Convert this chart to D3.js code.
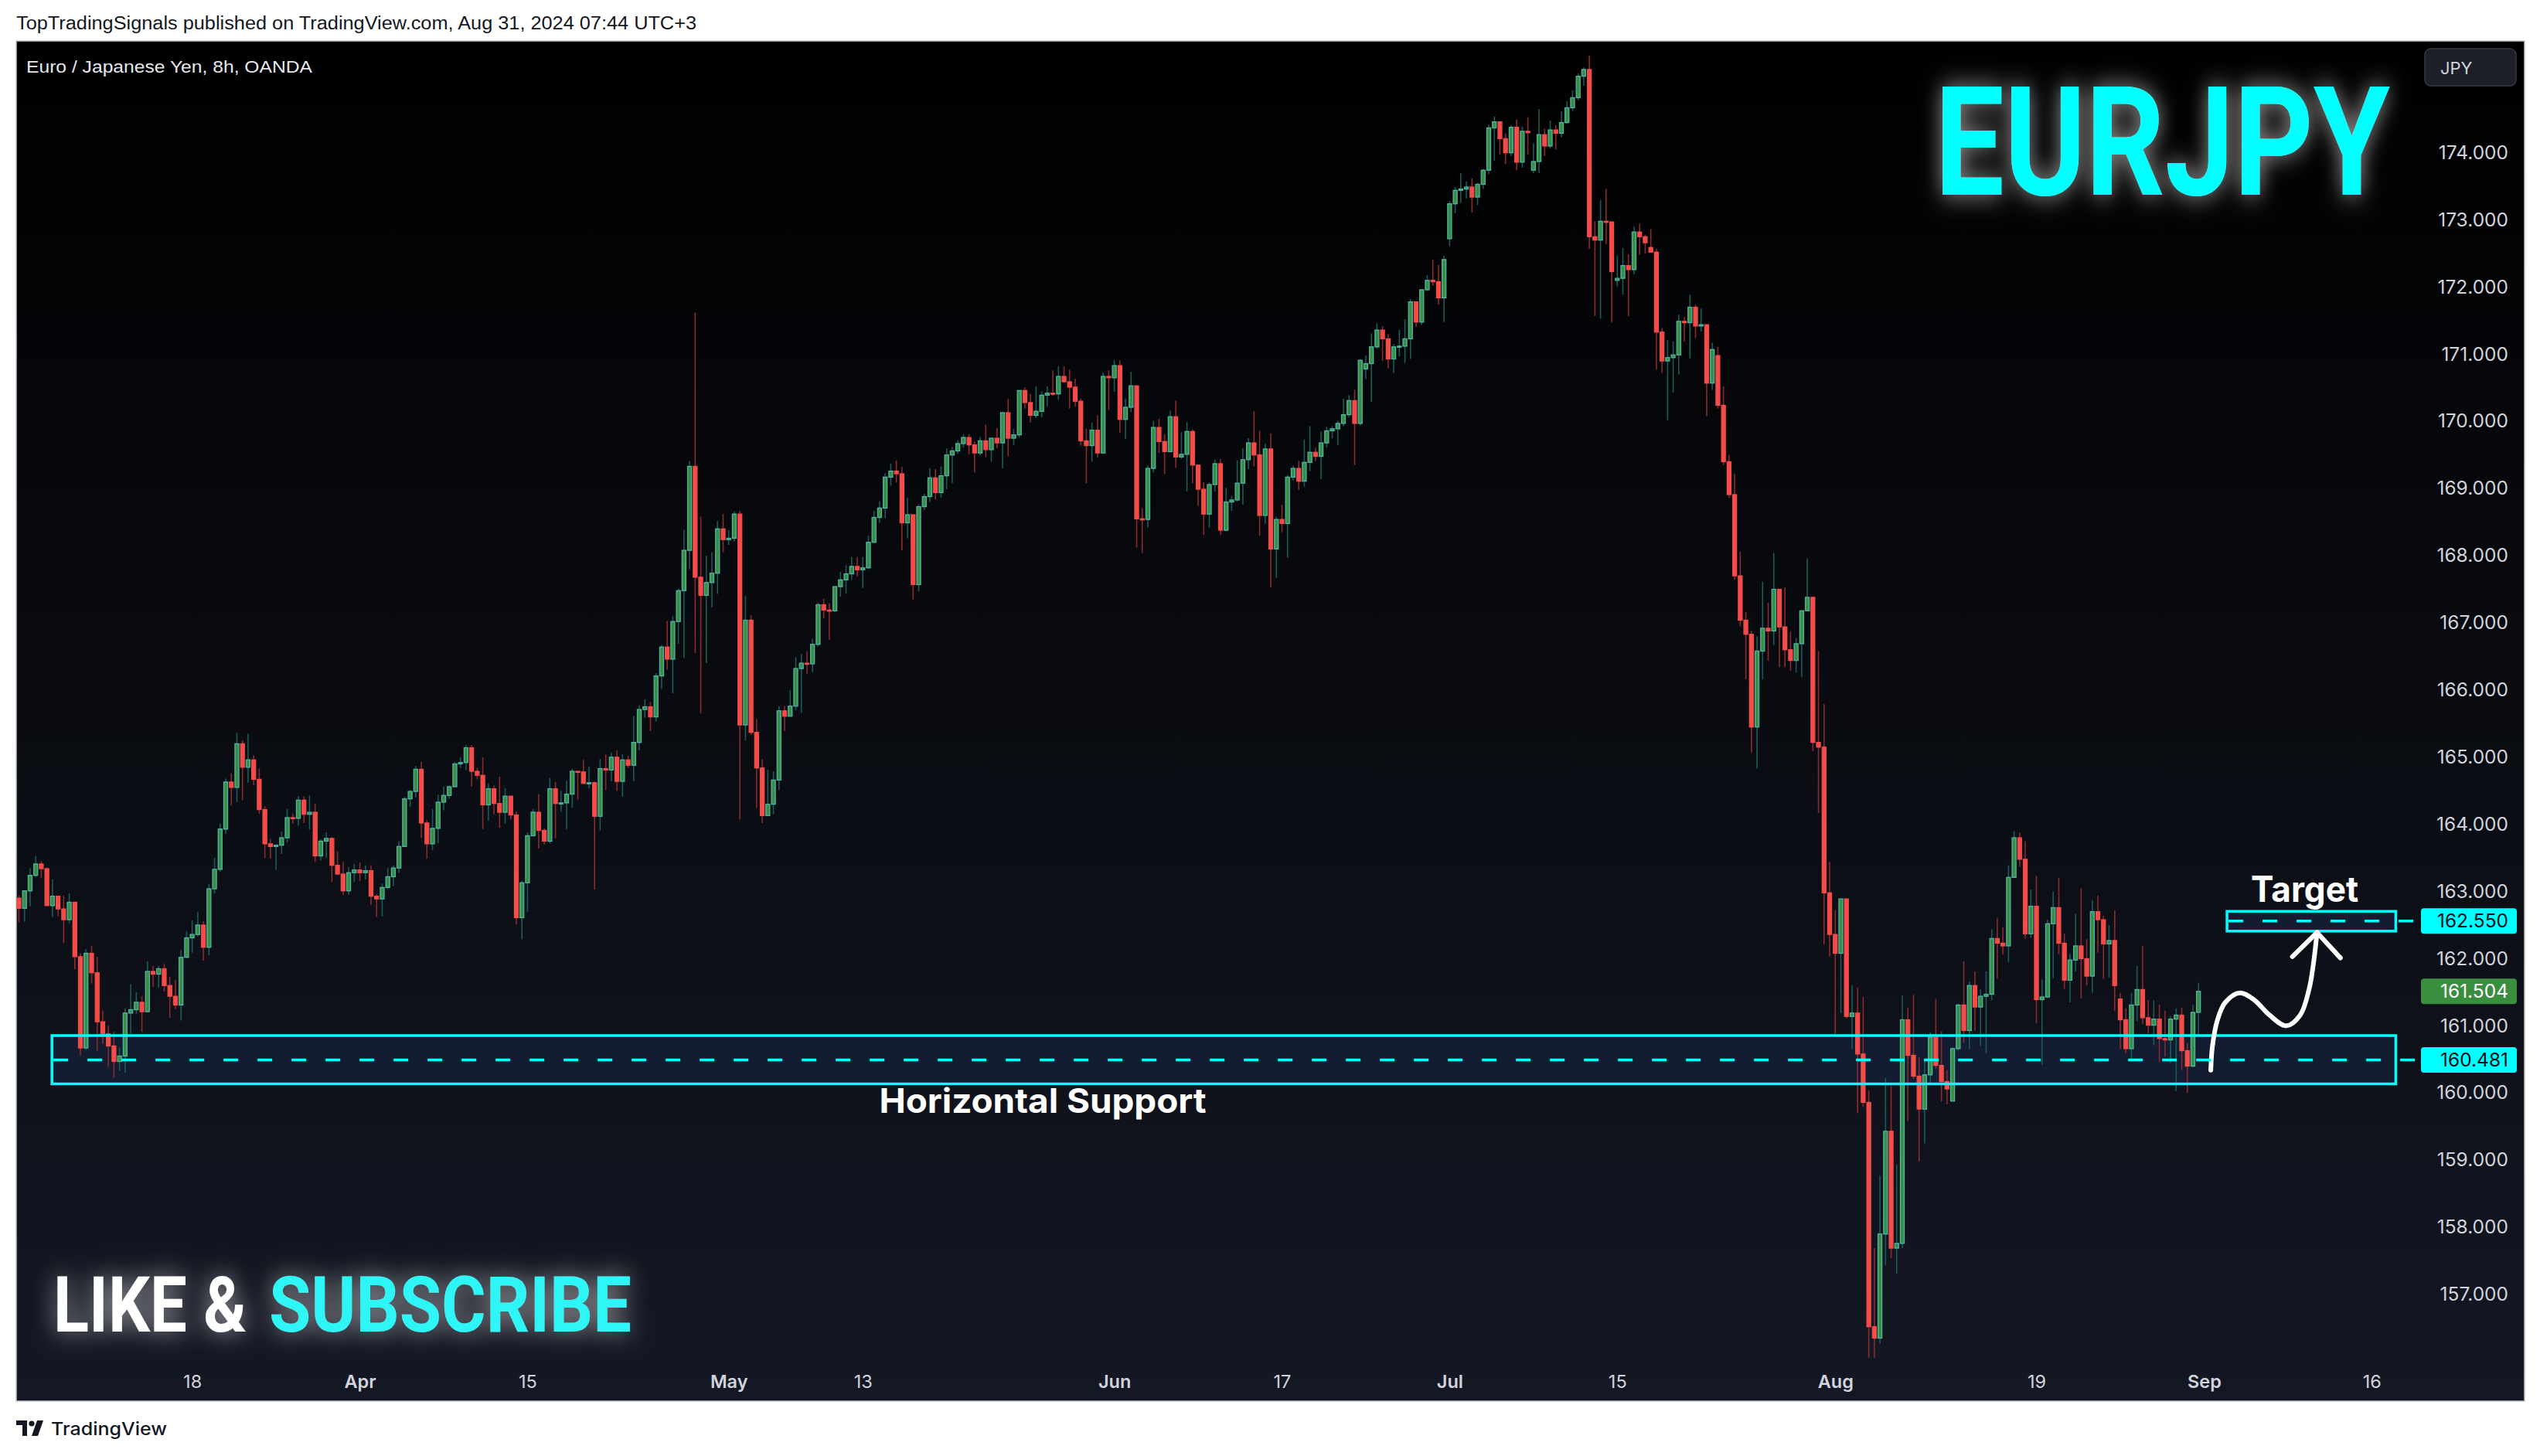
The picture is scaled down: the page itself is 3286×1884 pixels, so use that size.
<!DOCTYPE html>
<html><head><meta charset="utf-8">
<script src="https://cdn.jsdelivr.net/npm/d3@7"></script>
<style>
html,body{margin:0;padding:0;background:#fff;}
svg{display:block;}
</style></head><body>
<svg id="c" width="3286" height="1884"></svg>
<script>
// ---------------- DATA (EURJPY, 8h, OANDA) ----------------
const firstOpen = 162.89;
const closes = [
162.74,163.00,163.23,163.40,163.33,162.78,162.92,162.73,162.57,162.83,
162.02,160.66,162.07,161.78,161.05,160.87,160.69,160.46,160.54,161.18,
161.23,161.34,161.20,161.80,161.76,161.84,161.59,161.43,161.30,162.01,
162.30,162.35,162.49,162.16,163.03,163.32,163.92,164.62,164.54,165.19,
164.84,164.95,164.66,164.21,163.70,163.66,163.68,163.79,164.09,164.08,
164.35,164.14,164.17,163.52,163.74,163.78,163.38,163.25,163.00,163.27,
163.31,163.27,163.30,162.92,162.88,163.05,163.21,163.34,163.66,164.37,
164.48,164.81,164.01,163.70,163.93,164.32,164.42,164.55,164.89,164.91,
165.13,164.78,164.72,164.28,164.52,164.30,164.17,164.41,164.13,162.60,
163.12,163.82,164.17,163.90,163.74,164.52,164.30,164.31,164.44,164.78,
164.77,164.60,164.61,164.11,164.82,164.80,164.99,164.63,164.95,164.87,
165.21,165.70,165.74,165.59,166.20,166.63,166.45,167.01,167.47,168.07,
169.32,167.67,167.40,167.59,167.73,168.39,168.23,168.25,168.61,165.47,
167.03,165.36,164.83,164.12,164.29,164.65,165.68,165.60,165.75,166.31,
166.39,166.38,166.67,167.26,167.18,167.17,167.53,167.63,167.72,167.83,
167.78,167.81,168.19,168.56,168.70,169.16,169.25,169.21,168.48,168.60,
167.56,168.72,168.87,169.15,168.93,169.18,169.49,169.55,169.66,169.75,
169.64,169.52,169.70,169.57,169.74,169.67,170.12,169.74,169.79,170.45,
170.27,170.08,170.14,170.38,170.41,170.40,170.66,170.58,170.50,170.29,
169.70,169.63,169.86,169.52,170.66,170.64,170.82,170.02,170.20,170.52,
168.54,168.53,169.29,169.90,169.69,169.54,170.06,169.46,169.50,169.84,
169.34,168.98,168.61,169.05,169.36,168.37,168.79,168.82,169.07,169.42,
169.67,169.49,168.59,169.58,168.09,168.53,168.47,169.16,169.29,169.10,
169.38,169.53,169.47,169.67,169.85,169.88,169.96,170.09,170.30,169.96,
170.90,170.85,171.10,171.35,171.22,170.92,171.10,171.11,171.22,171.77,
171.47,171.95,172.09,172.07,171.83,172.40,173.23,173.43,173.45,173.48,
173.33,173.52,173.73,174.36,174.45,174.20,173.99,174.37,173.85,174.31,
174.29,173.86,174.26,174.09,174.33,174.28,174.44,174.66,174.81,175.13,
175.23,172.74,172.69,172.97,172.96,172.22,172.12,172.31,172.25,172.81,
172.74,172.65,172.51,171.32,170.89,170.94,170.98,171.48,171.46,171.69,
171.41,171.43,170.56,171.06,170.23,169.39,168.90,167.69,167.03,166.82,
165.44,166.57,166.91,166.87,167.49,166.93,166.59,166.43,166.68,167.17,
167.37,165.21,165.14,162.97,162.35,162.07,162.88,161.13,161.18,160.57,
159.85,156.51,156.34,157.89,159.42,157.68,157.75,161.08,160.55,160.24,
159.75,160.26,160.82,160.40,160.16,160.05,160.65,161.30,160.92,161.59,
161.27,161.43,161.46,162.29,162.22,162.18,163.20,163.79,163.47,162.36,
162.77,161.38,161.42,162.51,162.75,162.22,161.67,161.97,162.18,161.99,
161.73,162.69,162.57,162.21,162.26,161.59,161.08,160.65,161.30,161.53,
161.11,161.00,161.09,160.80,160.78,161.09,161.15,160.62,160.39,161.19,
161.504];
const highs = [
162.93,163.01,163.34,163.52,163.44,163.35,163.17,162.93,162.93,162.96,
162.83,162.07,162.13,162.18,162.02,161.22,160.99,160.90,160.67,161.25,
161.61,161.49,161.43,161.95,161.88,161.88,161.91,161.72,161.67,162.12,
162.40,162.56,162.69,162.55,163.10,163.49,164.00,164.67,164.75,165.35,
165.24,165.34,165.02,164.82,164.26,163.77,163.69,163.88,164.22,164.15,
164.41,164.41,164.42,164.30,163.77,163.87,163.80,163.59,163.43,163.35,
163.40,163.42,163.38,163.38,162.95,163.11,163.34,163.38,163.74,164.40,
164.50,164.86,164.92,164.05,164.22,164.43,164.55,164.57,164.92,164.99,
165.17,165.17,164.83,164.99,164.60,164.57,164.70,164.53,164.41,164.18,
163.15,163.87,164.22,164.44,163.93,164.68,164.62,164.49,164.64,164.82,
164.78,164.95,164.85,164.63,164.96,165.03,165.06,165.09,165.03,165.01,
165.61,165.76,165.85,165.81,166.24,166.66,167.02,167.09,167.50,168.38,
169.40,171.61,168.57,167.99,168.04,168.51,168.61,168.37,168.65,168.66,
167.39,167.10,165.56,164.96,164.80,164.78,165.75,165.75,165.99,166.48,
166.53,166.57,166.75,167.29,167.35,167.28,167.54,167.75,167.85,167.97,
167.97,167.97,168.29,168.66,168.80,169.22,169.36,169.41,169.31,168.85,
168.60,168.75,168.91,169.29,169.28,169.32,169.59,169.61,169.71,169.80,
169.80,169.69,169.76,169.94,169.74,169.89,170.13,170.33,169.88,170.45,
170.50,170.40,170.51,170.44,170.51,170.75,170.81,170.81,170.76,170.63,
170.33,169.88,169.97,170.08,170.72,170.75,170.90,170.90,170.33,170.73,
170.52,168.70,169.33,170.00,170.03,169.80,170.15,170.30,169.83,169.98,
169.87,169.34,169.08,169.08,169.42,169.43,169.00,168.88,169.41,169.59,
169.74,170.14,169.85,169.66,169.81,168.57,168.75,169.19,169.33,169.40,
169.72,169.92,169.60,169.84,169.91,169.92,170.00,170.33,170.38,170.46,
170.92,170.97,171.30,171.45,171.41,171.29,171.14,171.35,171.51,171.81,
171.72,171.96,172.17,172.40,172.32,172.46,173.27,173.48,173.69,173.56,
173.61,173.54,173.75,174.41,174.53,174.44,174.28,174.40,174.48,174.38,
174.52,174.13,174.64,174.35,174.47,174.40,174.61,174.76,174.92,175.17,
175.26,175.44,172.97,173.29,173.45,172.97,172.46,172.57,172.48,172.89,
172.93,172.77,172.85,172.56,171.38,171.20,171.18,171.58,171.54,171.88,
171.73,171.67,171.43,171.16,171.10,170.51,169.49,169.21,168.05,167.15,
166.87,166.79,167.60,167.29,168.03,167.49,167.52,166.86,166.76,167.17,
167.95,167.37,166.57,165.78,163.43,162.71,162.88,162.88,161.59,161.56,
161.42,160.03,157.68,158.76,160.21,160.10,158.92,161.44,161.26,161.45,
160.52,160.47,160.89,161.39,160.91,160.33,160.67,161.32,161.95,161.65,
161.80,161.53,161.80,162.43,162.60,162.46,163.38,163.89,163.87,163.74,
163.02,163.22,161.68,162.57,162.99,163.19,162.36,162.06,162.66,163.04,
162.28,162.86,162.93,162.63,162.49,162.71,161.48,161.25,161.48,161.88,
162.18,161.37,161.37,161.31,161.22,161.13,161.25,161.26,160.73,161.30,
161.63];
const lows = [
162.53,162.54,162.77,163.20,163.19,162.78,162.61,162.62,162.22,162.52,
161.83,160.55,160.63,161.62,160.62,160.72,160.38,160.22,160.32,160.29,
160.87,161.17,160.90,161.20,161.57,161.56,161.50,161.11,161.24,161.07,
162.00,162.08,162.32,161.96,162.04,162.96,163.28,163.85,164.27,164.32,
164.35,164.61,164.57,164.15,163.49,163.48,163.31,163.55,163.72,164.00,
163.97,164.01,163.91,163.43,163.45,163.49,163.13,163.23,162.94,162.94,
163.13,163.15,163.17,162.79,162.61,162.62,163.02,163.07,163.27,163.65,
164.25,164.39,163.79,163.48,163.61,163.71,164.20,164.37,164.55,164.83,
164.80,164.55,164.66,163.92,164.04,164.14,163.94,164.00,164.06,162.50,
162.28,162.69,163.81,163.63,163.69,163.71,163.78,164.18,163.92,164.24,
164.36,164.59,164.53,163.02,163.90,164.50,164.63,164.49,164.40,164.83,
164.63,165.09,165.58,165.38,165.52,166.01,166.29,165.94,166.68,166.47,
167.79,166.54,165.64,166.39,167.22,167.42,168.04,168.15,168.20,164.06,
165.24,165.32,164.23,164.01,164.11,164.14,164.50,165.38,165.60,165.69,
165.65,166.23,166.26,166.64,167.06,166.74,167.15,167.38,167.43,167.63,
167.68,167.51,167.79,168.18,168.48,168.55,169.03,169.08,168.07,168.25,
167.34,167.46,168.67,168.79,168.83,168.85,168.98,169.07,169.51,169.60,
169.50,169.23,169.48,169.46,169.39,169.59,169.29,169.47,169.64,169.75,
170.18,169.97,170.04,170.05,170.21,170.37,170.31,170.57,170.18,170.21,
169.63,169.07,169.39,169.45,169.52,170.16,170.43,169.82,169.73,170.13,
168.11,168.03,168.41,169.23,169.52,169.21,169.53,169.30,169.43,168.95,
169.07,168.73,168.30,168.41,168.95,168.30,168.35,168.66,168.80,168.75,
169.28,169.32,168.29,168.47,167.52,167.66,168.34,167.96,169.11,168.97,
169.02,169.25,169.40,169.13,169.60,169.74,169.64,169.92,170.05,169.34,
169.93,170.62,170.28,171.07,170.89,170.78,170.71,170.96,170.86,170.92,
171.40,171.43,171.93,172.01,171.73,171.47,172.60,173.09,173.24,173.31,
173.10,173.21,173.45,173.67,173.87,173.96,173.82,173.94,173.73,173.77,
173.96,173.69,173.69,173.94,174.05,174.04,174.22,174.42,174.61,174.77,
174.99,172.56,171.56,171.52,172.63,171.47,172.00,171.88,171.56,172.18,
172.47,172.49,172.51,170.76,170.71,170.01,170.42,170.69,171.18,170.93,
171.23,171.33,170.07,170.46,170.18,169.34,168.85,167.63,166.94,166.15,
165.06,164.82,166.15,166.43,166.66,166.33,166.33,166.28,166.25,166.18,
167.17,165.08,164.16,162.20,162.02,160.87,161.18,161.10,160.65,159.69,
159.78,156.05,156.05,156.26,157.43,157.53,157.30,157.68,159.57,160.20,
158.97,159.24,160.11,160.35,159.86,159.82,159.87,160.62,160.74,160.65,
160.92,160.69,160.58,161.37,161.69,162.05,161.94,163.20,163.36,162.29,
162.30,161.03,160.41,161.40,161.70,162.06,161.54,161.34,161.80,161.40,
161.59,161.48,162.08,161.69,161.71,161.21,160.65,160.58,160.50,161.06,
161.02,160.88,160.70,160.45,160.53,160.44,160.02,160.33,159.99,160.37,
160.85];
// bars whose open differs from the previous close (session gaps)
const openGaps = [[241,170.77],[256,172.71],[271,173.73],[286,172.09],[292,172.58],[304,170.97],[346,159.87],[376,161.39]];

const priceTicks = [157,158,159,160,161,162,163,164,165,166,167,168,169,170,171,172,173,174];
const timeTickIdx = [31,61,91,127,151,196,226,256,286,325,361,391,421];
const timeTickLabels = ["18","Apr","15","May","13","Jun","17","Jul","15","Aug","19","Sep","16"];
const monthLabels = ["Apr","May","Jun","Jul","Aug","Sep"];

// drawings (bar index / price)
const supportBox = {from: 5.9, to: 425.3, top: 160.845, bottom: 160.125, level: 160.481};
const targetBox  = {from: 395.1, to: 425.3, top: 162.695, bottom: 162.40, level: 162.550};
const lastPrice = 161.504;
const arrowPath = [[392.2,160.33],[392.5,160.69],[393.4,161.08],[394.8,161.34],[397.4,161.48],[399.9,161.38],[402.7,161.15],[405.7,160.99],[408.2,161.15],[409.8,161.54],[410.7,162.0],[411.2,162.38]];
const arrowHead = [[406.8,162.02],[411.2,162.38],[415.4,162.0]];
const supportText = {idx: 183.2, price: 159.69, text: "Horizontal Support"};
const targetText = {idx: 409.0, price: 162.83, text: "Target"};

// ---------------- LAYOUT ----------------
const W = 3286, H = 1884;
const frame = {x: 21, y: 53, w: 3245, h: 1760};
const pane = {x: 21, y: 53, w: 3097, h: 1707};

const x = d3.scaleLinear().domain([0, 390]).range([24.5, 24.5 + 390 * 7.23]);
const y = d3.scaleLinear().domain([157, 174]).range([1674.1, 196.8]);

const svg = d3.select('#c');
const defs = svg.append('defs');
const lg = defs.append('linearGradient').attr('id', 'bg').attr('x1', 0).attr('y1', 0).attr('x2', 0).attr('y2', 1);
lg.append('stop').attr('offset', '0%').attr('stop-color', '#000000');
lg.append('stop').attr('offset', '100%').attr('stop-color', '#141824');
defs.append('clipPath').attr('id', 'paneClip').append('rect')
  .attr('x', pane.x).attr('y', pane.y).attr('width', pane.w).attr('height', pane.h);
const glow = defs.append('filter').attr('id', 'glow')
  .attr('x', '-20%').attr('y', '-50%').attr('width', '140%').attr('height', '200%');
glow.append('feGaussianBlur').attr('in', 'SourceAlpha').attr('stdDeviation', 16).attr('result', 'b');
glow.append('feFlood').attr('flood-color', '#ffffff').attr('flood-opacity', 0.6);
glow.append('feComposite').attr('in2', 'b').attr('operator', 'in').attr('result', 'g');
const gm = glow.append('feMerge');
gm.append('feMergeNode').attr('in', 'g');
gm.append('feMergeNode').attr('in', 'SourceGraphic');

svg.append('rect').attr('width', W).attr('height', H).attr('fill', '#ffffff');

// header
svg.append('text').attr('x', 21).attr('y', 38)
  .attr('font-family', 'Liberation Sans, Arial, sans-serif').attr('font-size', 23)
  .attr('fill', '#131722').attr('textLength', 880).attr('lengthAdjust', 'spacingAndGlyphs')
  .text('TopTradingSignals published on TradingView.com, Aug 31, 2024 07:44 UTC+3');

// frame
svg.append('rect').attr('x', frame.x).attr('y', frame.y).attr('width', frame.w).attr('height', frame.h)
  .attr('fill', 'url(#bg)').attr('stroke', '#c3c6ce').attr('stroke-width', 1.5);

// legend
svg.append('text').attr('x', 34).attr('y', 94)
  .attr('font-family', 'Liberation Sans, Arial, sans-serif').attr('font-size', 22)
  .attr('fill', '#e6e8ee').attr('textLength', 370).attr('lengthAdjust', 'spacingAndGlyphs')
  .text('Euro / Japanese Yen, 8h, OANDA');

// JPY box
svg.append('rect').attr('x', 3137).attr('y', 63).attr('width', 118).attr('height', 48).attr('rx', 8)
  .attr('fill', '#1c1f28').attr('stroke', '#363a45').attr('stroke-width', 1.5);
svg.append('text').attr('x', 3157).attr('y', 96)
  .attr('font-family', 'Inter, Liberation Sans, sans-serif').attr('font-size', 22)
  .attr('fill', '#d1d4dc').text('JPY');

// big title: fitted to its width with a horizontal scale so its real box is exact
function fitText(sel, left, baseline, width){
  sel.attr('x', 0).attr('y', 0);
  const natural = sel.node().getComputedTextLength();
  const k = width / natural;
  sel.attr('transform', `translate(${left},${baseline}) scale(${k},1)`);
}
const title = svg.append('text')
  .attr('font-family', 'Roboto, Inter, sans-serif').attr('font-weight', 700).attr('font-size', 196)
  .attr('fill', '#00ffff').attr('filter', 'url(#glow)').text('EURJPY');
fitText(title, 2503, 252, 589);

// ---------------- CHART PANE ----------------
const paneG = svg.append('g').attr('clip-path', 'url(#paneClip)');

const gapMap = new Map(openGaps);
const bars = closes.map((c, i) => ({
  i, c, h: highs[i], l: lows[i],
  o: i === 0 ? firstOpen : (gapMap.has(i) ? gapMap.get(i) : closes[i - 1])
}));

// box fills (under candles)
function boxRect(b){ return {x: x(b.from), y: y(b.top), w: x(b.to) - x(b.from), h: y(b.bottom) - y(b.top)}; }
[supportBox, targetBox].forEach(b => {
  const r = boxRect(b);
  paneG.append('rect').attr('x', r.x).attr('y', r.y).attr('width', r.w).attr('height', r.h)
    .attr('fill', '#16203a').attr('fill-opacity', 0.75);
});

// candles
const bw = 5.0;
paneG.append('g').selectAll('line').data(bars).join('line')
  .attr('x1', d => x(d.i)).attr('x2', d => x(d.i))
  .attr('y1', d => y(Math.max(d.h, d.o, d.c))).attr('y2', d => y(Math.min(d.l, d.o, d.c)))
  .attr('stroke', d => d.c >= d.o ? '#1a5d56' : '#8a2c2c').attr('stroke-width', 1.6);
paneG.append('g').selectAll('rect').data(bars).join('rect')
  .attr('x', d => x(d.i) - bw / 2).attr('width', bw)
  .attr('y', d => y(Math.max(d.o, d.c)))
  .attr('height', d => Math.max(1.4, Math.abs(y(d.o) - y(d.c))))
  .attr('fill', d => d.c >= d.o ? '#3a8e44' : '#f44c48')
  .attr('stroke', d => d.c >= d.o ? '#4fb6a6' : '#f44c48').attr('stroke-width', 1.3);

// box strokes + dashed levels
const cyan = '#00ffff';
[supportBox, targetBox].forEach(b => {
  const r = boxRect(b);
  paneG.append('rect').attr('x', r.x).attr('y', r.y).attr('width', r.w).attr('height', r.h)
    .attr('fill', 'none').attr('stroke', cyan).attr('stroke-width', 3.5);
  svg.append('line').attr('x1', x(b.from) + 2).attr('x2', 3130)
    .attr('y1', y(b.level)).attr('y2', y(b.level))
    .attr('stroke', cyan).attr('stroke-width', 3.5).attr('stroke-dasharray', '19 25');
});

// hand-drawn arrow
const ln = d3.line().x(d => x(d[0])).y(d => y(d[1])).curve(d3.curveCatmullRom.alpha(0.5));
paneG.append('path').attr('d', ln(arrowPath)).attr('fill', 'none')
  .attr('stroke', '#ffffff').attr('stroke-width', 6).attr('stroke-linecap', 'round').attr('stroke-linejoin', 'round');
paneG.append('path').attr('d', d3.line().x(d => x(d[0])).y(d => y(d[1]))(arrowHead)).attr('fill', 'none')
  .attr('stroke', '#ffffff').attr('stroke-width', 6).attr('stroke-linecap', 'round').attr('stroke-linejoin', 'round');

// annotation texts
paneG.append('text').attr('x', x(supportText.idx)).attr('y', y(supportText.price))
  .attr('text-anchor', 'middle').attr('font-family', 'Inter, Roboto, sans-serif').attr('font-weight', 700)
  .attr('font-size', 44).attr('fill', '#ffffff').attr('textLength', 423).attr('lengthAdjust', 'spacingAndGlyphs')
  .text(supportText.text);
paneG.append('text').attr('x', x(targetText.idx)).attr('y', y(targetText.price))
  .attr('text-anchor', 'middle').attr('font-family', 'Inter, Roboto, sans-serif').attr('font-weight', 700)
  .attr('font-size', 46).attr('fill', '#ffffff').attr('textLength', 139).attr('lengthAdjust', 'spacingAndGlyphs')
  .text(targetText.text);

// LIKE & SUBSCRIBE
svg.append('text').attr('x', 69).attr('y', 1723)
  .attr('font-family', 'Roboto, Inter, sans-serif').attr('font-weight', 700).attr('font-size', 100)
  .attr('fill', '#ffffff').attr('textLength', 250).attr('lengthAdjust', 'spacingAndGlyphs')
  .attr('filter', 'url(#glow)').text('LIKE &');
svg.append('text').attr('x', 348).attr('y', 1723)
  .attr('font-family', 'Roboto, Inter, sans-serif').attr('font-weight', 700).attr('font-size', 100)
  .attr('fill', '#2ef6f6').attr('textLength', 469).attr('lengthAdjust', 'spacingAndGlyphs')
  .attr('filter', 'url(#glow)').text('SUBSCRIBE');

// ---------------- AXES ----------------
const axisFont = 'Inter, Liberation Sans, sans-serif';
const yAxis = d3.axisRight(y).tickValues(priceTicks).tickSize(0).tickFormat(d3.format('.3f'));
const yg = svg.append('g').attr('transform', 'translate(3245,0)').call(yAxis);
yg.select('.domain').remove();
yg.selectAll('text').attr('x', 0).attr('dy', '0.35em').attr('text-anchor', 'end')
  .attr('font-family', axisFont).attr('font-size', 24.5).attr('fill', '#d1d4dc');

const xAxis = d3.axisBottom(x).tickValues(timeTickIdx).tickSize(0)
  .tickFormat((d, i) => timeTickLabels[i]);
const xg = svg.append('g').attr('transform', 'translate(0,1788)').call(xAxis);
xg.select('.domain').remove();
xg.selectAll('text').attr('y', 0).attr('dy', '0.35em')
  .attr('font-family', axisFont).attr('font-size', 23.5).attr('fill', '#d1d4dc')
  .attr('font-weight', (d, i) => monthLabels.includes(timeTickLabels[i]) ? 600 : 400);

// price labels on axis
function axisLabel(level, bg, fg){
  svg.append('rect').attr('x', 3132).attr('y', y(level) - 16.5).attr('width', 124).attr('height', 33)
    .attr('rx', 4).attr('fill', bg);
  svg.append('text').attr('x', 3245).attr('y', y(level)).attr('dy', '0.35em').attr('text-anchor', 'end')
    .attr('font-family', axisFont).attr('font-size', 24.5).attr('fill', fg).text(d3.format('.3f')(level));
}
axisLabel(targetBox.level, cyan, '#0b0e14');
axisLabel(lastPrice, '#3a8f3f', '#ffffff');
axisLabel(supportBox.level, cyan, '#0b0e14');

// ---------------- FOOTER LOGO ----------------
const logo = svg.append('g').attr('transform', 'translate(21,1838)');
logo.append('path').attr('d', 'M0,0 H14 V20 H8 V6 H0 Z').attr('fill', '#131722');
logo.append('circle').attr('cx', 20).attr('cy', 4).attr('r', 3.6).attr('fill', '#131722');
logo.append('path').attr('d', 'M27,0 H35 L28,20 H20 Z').attr('fill', '#131722');
svg.append('text').attr('x', 66).attr('y', 1857)
  .attr('font-family', 'Inter, Liberation Sans, sans-serif').attr('font-weight', 500).attr('font-size', 23)
  .attr('fill', '#131722').attr('textLength', 150).attr('lengthAdjust', 'spacingAndGlyphs').text('TradingView');
</script>
</body></html>
